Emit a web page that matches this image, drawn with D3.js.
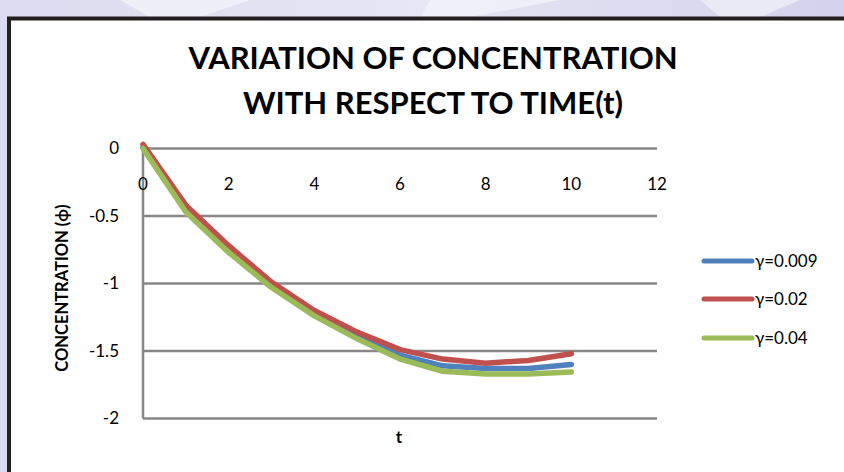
<!DOCTYPE html>
<html>
<head>
<meta charset="utf-8">
<script src="https://cdn.jsdelivr.net/npm/d3@7/dist/d3.min.js"></script>
<style>
html,body{margin:0;padding:0;background:#fff;}
svg{display:block;}
text{font-family:Lato,"Open Sans",sans-serif;}
</style>
</head>
<body>
<svg id="chart" width="844" height="472"></svg>
<script>
const tValues = [0,1,2,3,4,5,6,7,8,9,10];
const seriesNames = ["γ=0.009","γ=0.02","γ=0.04"];
const seriesColors = ["#4F81BD","#C0504D","#9BBB59"];
const blueValues  = [0.01,-0.45,-0.75,-1.01,-1.22,-1.39,-1.53,-1.61,-1.63,-1.63,-1.60];
const redValues   = [0.03,-0.42,-0.72,-0.99,-1.20,-1.36,-1.49,-1.56,-1.59,-1.57,-1.52];
const greenValues = [0.00,-0.47,-0.77,-1.03,-1.24,-1.41,-1.56,-1.65,-1.67,-1.67,-1.655];
const xTicks = [0,2,4,6,8,10,12];
const yTicks = [0,-0.5,-1,-1.5,-2];
const titleLines = ["VARIATION OF CONCENTRATION","WITH RESPECT TO TIME(t)"];
const xTitle = "t";
const yTitle = "CONCENTRATION (ϕ)";

const svg = d3.select("#chart");

// background
const defs = svg.append("defs");
const grad = defs.append("linearGradient").attr("id","bg").attr("x1","0").attr("x2","1").attr("y1","0").attr("y2","0");
grad.append("stop").attr("offset","0").attr("stop-color","#dcdcf0");
grad.append("stop").attr("offset","0.5").attr("stop-color","#e6e6f4");
grad.append("stop").attr("offset","1").attr("stop-color","#d2d2ec");
svg.append("rect").attr("width",844).attr("height",472).attr("fill","url(#bg)");
svg.append("path").attr("d","M120,0 L250,0 L200,17 L150,17 Z").attr("fill","#f2f2fa").attr("opacity",0.8);
svg.append("path").attr("d","M430,0 L560,0 L470,17 L420,17 Z").attr("fill","#f2f2fa").attr("opacity",0.8);
svg.append("path").attr("d","M700,0 L800,0 L760,17 L720,17 Z").attr("fill","#f2f2fa").attr("opacity",0.7);

// chart frame
svg.append("rect").attr("x",9).attr("y",18.5).attr("width",850).attr("height",470)
  .attr("fill","#ffffff").attr("stroke","#231f20").attr("stroke-width",4);

const x = d3.scaleLinear().domain([0,12]).range([143,657]);
const y = d3.scaleLinear().domain([-2,0]).range([418.5,148.5]);

// gridlines
svg.append("g").selectAll("line").data(yTicks).join("line")
  .attr("x1",x(0)).attr("x2",x(12))
  .attr("y1",d=>y(d)).attr("y2",d=>y(d))
  .attr("stroke","#878787").attr("stroke-width",2.5);

// y axis line
svg.append("line").attr("x1",x(0)).attr("x2",x(0)).attr("y1",y(0)).attr("y2",y(-2))
  .attr("stroke","#878787").attr("stroke-width",2.5);

// y tick labels
svg.append("g").selectAll("text").data(yTicks).join("text")
  .attr("x",119).attr("y",d=>y(d)).attr("dy","0.35em")
  .attr("text-anchor","end").attr("font-size",17).attr("fill","#000")
  .text(d=>d3.format("")(d).replace("−","-"));

// x tick labels
svg.append("g").selectAll("text").data(xTicks).join("text")
  .attr("x",d=>x(d)).attr("y",184).attr("dy","0.35em")
  .attr("text-anchor","middle").attr("font-size",17).attr("fill","#000")
  .text(d=>d);

// title
svg.append("g").selectAll("text").data(titleLines).join("text")
  .attr("x",433).attr("y",(d,i)=>58+i*45).attr("dy","0.35em")
  .attr("text-anchor","middle").attr("font-size",31).attr("font-weight","bold").attr("fill","#000")
  .text(d=>d);

// axis titles
svg.append("text").attr("x",399).attr("y",437).attr("dy","0.35em")
  .attr("text-anchor","middle").attr("font-size",17).attr("font-weight","bold").text(xTitle);
svg.append("text").attr("transform","translate(62,288) rotate(-90)").attr("dy","0.35em")
  .attr("text-anchor","middle").attr("font-size",16.5).attr("font-weight","bold").text(yTitle);

// lines
const allSeries = [blueValues, redValues, greenValues];
const line = d3.line().x((d,i)=>x(tValues[i])).y(d=>y(d));
svg.append("g").selectAll("path").data(allSeries).join("path")
  .attr("d",d=>line(d)).attr("fill","none")
  .attr("stroke",(d,i)=>seriesColors[i]).attr("stroke-width",5.5)
  .attr("stroke-linecap","round").attr("stroke-linejoin","round");

// legend
const legY = [261,299,338];
const leg = svg.append("g").selectAll("g").data(seriesNames).join("g");
leg.append("line").attr("x1",704).attr("x2",752).attr("y1",(d,i)=>legY[i]).attr("y2",(d,i)=>legY[i])
  .attr("stroke",(d,i)=>seriesColors[i]).attr("stroke-width",5).attr("stroke-linecap","round");
leg.append("text").attr("x",755).attr("y",(d,i)=>legY[i]).attr("dy","0.35em")
  .attr("font-size",17).attr("fill","#000").text(d=>d);
</script>
</body>
</html>
